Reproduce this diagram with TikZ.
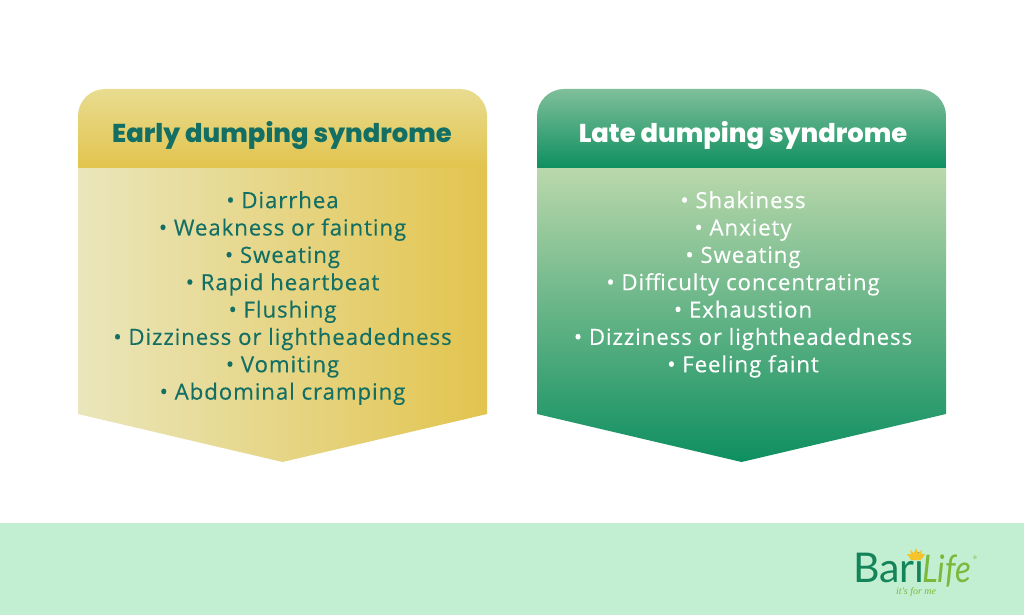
\documentclass[tikz,border=0pt]{standalone}
\usepackage{fontspec}
\setmainfont{Open Sans}
\newfontfamily\headfont{Poppins}[BoldFont={* ExtraBold}]
\newfontfamily\bodyfont{Open Sans}[LetterSpace=4.0,FakeBold=0.3]
\newfontfamily\logofont{Lato}
\newfontfamily\tagfont{Liberation Serif}
\definecolor{teal}{HTML}{136F63}
\definecolor{yLight}{HTML}{EAE6BC}
\definecolor{yTop}{HTML}{E8DC90}
\definecolor{yDark}{HTML}{E2C44E}
\definecolor{gTop}{HTML}{7FBF9A}
\definecolor{gDark}{HTML}{0E8F60}
\definecolor{gBody}{HTML}{BAD8AC}
\definecolor{band}{HTML}{C2EFD1}
\definecolor{logoDark}{HTML}{13845A}
\definecolor{logoLight}{HTML}{7AB93C}
\definecolor{logoSun}{HTML}{F5C32C}
\tikzset{
  headtitle/.style={font=\headfont\bfseries\fontsize{25.8}{28}\selectfont,anchor=center,inner sep=0pt},
  bodylist/.style={font=\bodyfont\fontsize{22.3}{27.35}\selectfont,align=center,anchor=north,inner sep=0pt},
}
\begin{document}
\begin{tikzpicture}[x=1pt,y=-1pt]
\useasboundingbox (0,0) rectangle (1024,615);
\fill[white] (0,0) rectangle (1024,615);
\fill[band] (0,523) rectangle (1024,615);
% left card
\shade[top color=yTop,bottom color=yDark] (78,168) -- (78,116) arc[start angle=180,end angle=270,radius=27] -- (460,89) arc[start angle=270,end angle=360,radius=27] -- (487,168) -- cycle;
\shade[left color=yLight,right color=yDark] (78,168) -- (487,168) -- (487,414) -- (282.5,462) -- (78,414) -- cycle;
% right card
\shade[top color=gTop,bottom color=gDark] (537,168) -- (537,116) arc[start angle=180,end angle=270,radius=27] -- (919,89) arc[start angle=270,end angle=360,radius=27] -- (946,168) -- cycle;
\shade[top color=gBody,bottom color=gDark] (537,168) -- (946,168) -- (946,414) -- (741.5,462) -- (537,414) -- cycle;
% text
\node[headtitle,text=teal] (earlyTitle) at (282,136) {Early dumping syndrome};
\node[headtitle,text=white] (lateTitle) at (743,136) {Late dumping syndrome};
\node[bodylist,text=teal] (earlyList) at (282.5,191) {• Diarrhea\\• Weakness or fainting\\• Sweating\\• Rapid heartbeat\\• Flushing\\• Dizziness or lightheadedness\\• Vomiting\\• Abdominal cramping};
\node[bodylist,text=white] (lateList) at (743,191) {• Shakiness\\• Anxiety\\• Sweating\\• Difficulty concentrating\\• Exhaustion\\• Dizziness or lightheadedness\\• Feeling faint};
% logo
\node[font=\logofont\fontsize{41}{41}\selectfont,text=logoDark,anchor=base west,inner sep=0pt] (logoBari) at (853,582) {Bari};
\node[font=\logofont\itshape\fontsize{38}{38}\selectfont,text=logoLight,anchor=base west,inner sep=0pt,xscale=.87] (logoLife) at (922,582) {Life};
\node[font=\tagfont\itshape\fontsize{10}{10}\selectfont,text=logoLight,anchor=base west,inner sep=0pt] (logoTag) at (896,594) {it's for me};
\node[font=\logofont\fontsize{5}{5}\selectfont,text=logoLight,anchor=center,inner sep=0pt] (logoReg) at (975,558) {®};
\fill[logoSun] (916,548) -- (918,553) -- (922,550) -- (921,554) -- (925,554) -- (921,560) -- (911,560) -- (907,554) -- (911,554) -- (910,550) -- (914,553) -- cycle;
\end{tikzpicture}
\end{document}
